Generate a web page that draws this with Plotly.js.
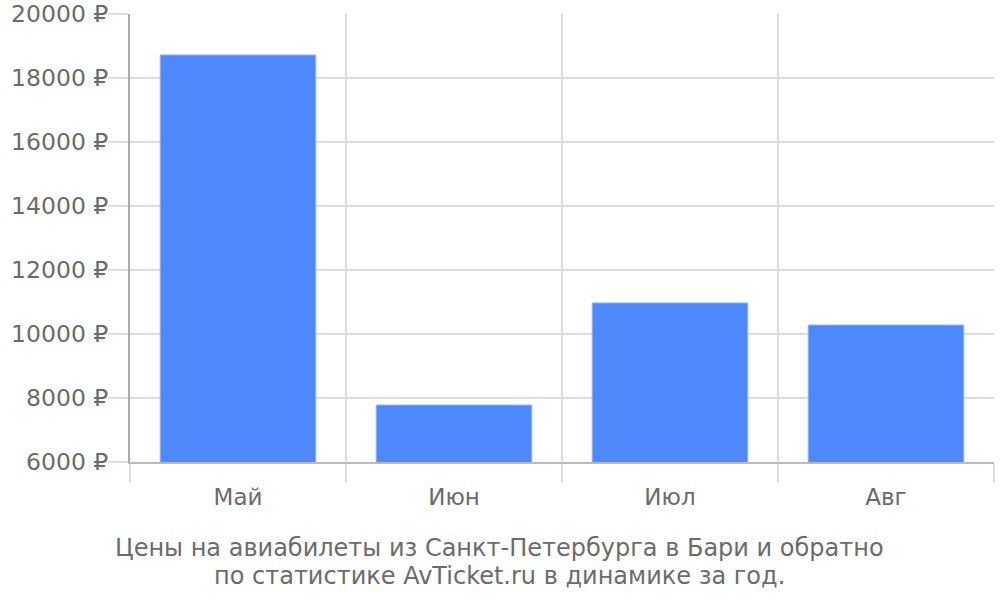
<!DOCTYPE html>
<html><head><meta charset="utf-8">
<script src="https://cdn.plot.ly/plotly-3.0.1.min.js"></script>
<style>body{margin:0;background:#fff}#c{width:1000px;height:600px}</style>
</head><body><div id="c"></div>
<script>
const months = ["Май", "Июн", "Июл", "Авг"];
const prices = [18720, 7780, 10970, 10280];
const yTicks = [6000, 8000, 10000, 12000, 14000, 16000, 18000, 20000];
const yTickText = yTicks.map(v => v + " ₽");
const titleLine1 = "Цены на авиабилеты из Санкт-Петербурга в Бари и обратно";
const titleLine2 = "по статистике AvTicket.ru в динамике за год.";

Plotly.newPlot("c", [{
  type: "bar", x: months, y: prices,
  marker: {color: "#4d89fa", line: {color: "#8fb4fb", width: 1}},
  hoverinfo: "skip"
}], {
  width: 1000, height: 600,
  margin: {l: 130, r: 6, t: 14, b: 138},
  paper_bgcolor: "#fff", plot_bgcolor: "#fff",
  bargap: 0.28,
  font: {family: "DejaVu Sans", size: 24, color: "#666"},
  xaxis: {
    type: "category", tickson: "boundaries", ticks: "outside", ticklen: 18,
    tickcolor: "#ddd", tickwidth: 1.5, showgrid: true, gridcolor: "#ddd", gridwidth: 1.5,
    showline: true, linecolor: "#bbb", linewidth: 2, ticklabelstandoff: 13,
    tickfont: {size: 23, color: "#6b6b6b"}, fixedrange: true
  },
  yaxis: {
    range: [6000, 20000], tickmode: "array", tickvals: yTicks, ticktext: yTickText,
    ticks: "outside", ticklen: 20, tickcolor: "#ddd", tickwidth: 1.5,
    showgrid: true, gridcolor: "#ddd", gridwidth: 1.5, ticklabelstandoff: -5,
    showline: true, linecolor: "#aaa", linewidth: 2, zeroline: false,
    tickfont: {size: 23.5, color: "#6b6b6b"}, fixedrange: true
  },
  annotations: [
    {text: titleLine1, xref: "paper", yref: "paper", x: 0.428, y: -0.192,
     xanchor: "center", yanchor: "middle", showarrow: false,
     font: {size: 24, color: "#6b6b6b", family: "DejaVu Sans"}},
    {text: titleLine2, xref: "paper", yref: "paper", x: 0.428, y: -0.2545,
     xanchor: "center", yanchor: "middle", showarrow: false,
     font: {size: 24, color: "#6b6b6b", family: "DejaVu Sans"}}
  ],
  showlegend: false
}, {staticPlot: true});
</script></body></html>
